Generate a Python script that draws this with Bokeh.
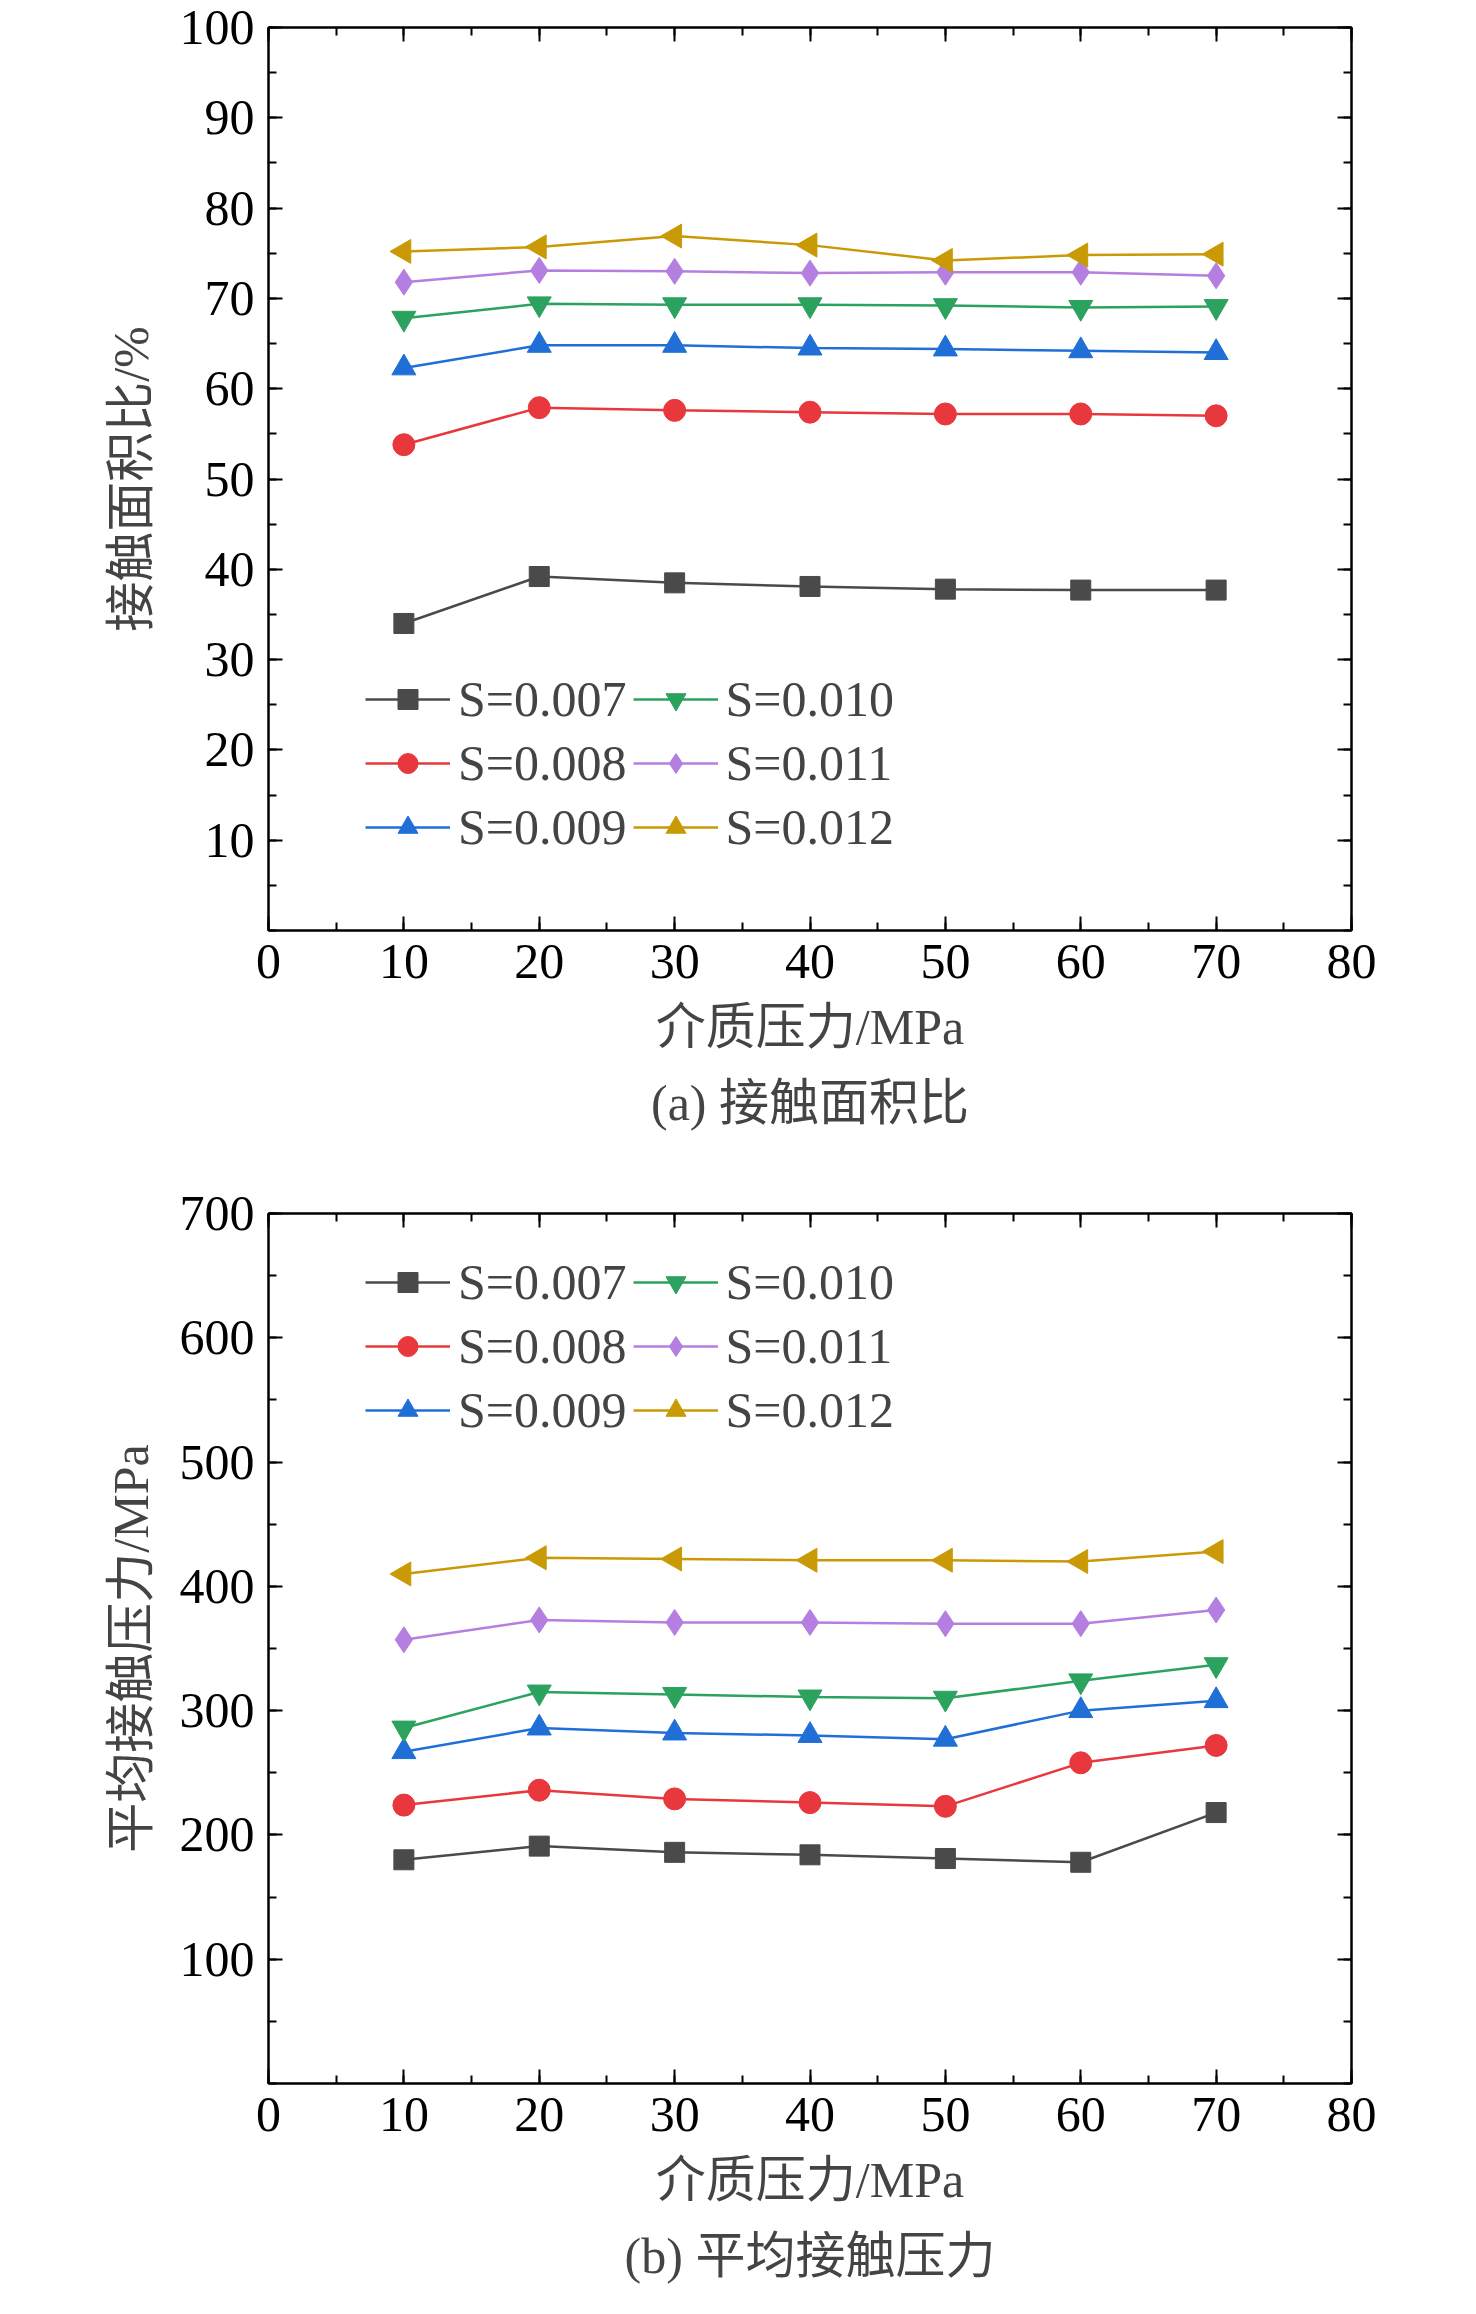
import math
from bokeh.plotting import figure
from bokeh.models import LinearAxis, FixedTicker, Range1d, Legend, LegendItem, Column
from bokeh.embed import file_html
from bokeh.resources import INLINE

x = [10, 20, 30, 40, 50, 60, 70]
labels = ["S=0.007", "S=0.008", "S=0.009", "S=0.010", "S=0.011", "S=0.012"]
area = [
    [34.0, 39.2, 38.5, 38.1, 37.8, 37.7, 37.7],
    [53.8, 57.9, 57.6, 57.4, 57.2, 57.2, 57.0],
    [62.3, 64.8, 64.8, 64.5, 64.4, 64.2, 64.0],
    [67.8, 69.4, 69.3, 69.3, 69.2, 69.0, 69.1],
    [71.8, 73.1, 73.0, 72.8, 72.9, 72.9, 72.5],
    [75.2, 75.7, 76.9, 75.9, 74.2, 74.8, 74.9],
]
pressure = [
    [180, 191, 186, 184, 181, 178, 218],
    [224, 236, 229, 226, 223, 258, 272],
    [267, 286, 282, 280, 277, 300, 308],
    [286, 315, 313, 311, 310, 324, 337],
    [357, 373, 371, 371, 370, 370, 381],
    [410, 423, 422, 421, 421, 420, 428],
]
colors = ["#4a4a4a", "#e8383d", "#1f6fd6", "#2ca25f", "#b47fe0", "#c99a06"]
markers = ["square", "circle", "triangle", "inverted_triangle", "diamond", "triangle"]
angles = [0, 0, 0, 0, 0, math.pi / 2]
sizes = [20, 22, 24, 24, 26, 24]

FONT = "Liberation Serif, Noto Sans CJK SC"
TICK = "50px"


def style_axis(ax, ticks, minor, show):
    ax.ticker = FixedTicker(ticks=ticks, minor_ticks=minor)
    ax.major_tick_in = 14
    ax.major_tick_out = 0
    ax.minor_tick_in = 8
    ax.minor_tick_out = 0
    ax.axis_line_width = 2
    ax.major_tick_line_width = 2
    ax.minor_tick_line_width = 2
    ax.major_label_text_font = FONT
    ax.major_label_text_font_size = TICK
    ax.major_label_text_color = "black"
    if not show:
        ax.major_label_overrides = {t: "" for t in ticks}
    ax.axis_label_text_font = FONT
    ax.axis_label_text_font_size = "50px"
    ax.axis_label_text_font_style = "normal"
    ax.major_label_standoff = 14
    ax.axis_label_standoff = 18


def make(data, ymax, ystep, ylabel, caption, height, top, legend_loc):
    p = figure(width=1460, height=height, output_backend="svg", toolbar_location=None,
               x_range=Range1d(0, 80), y_range=Range1d(0, ymax),
               min_border_left=268, min_border_right=109, min_border_top=top,
               title=caption, title_location="below")
    p.outline_line_color = "black"
    p.outline_line_width = 2
    p.grid.visible = False
    p.title.text_font = FONT
    p.title.text_font_size = "50px"
    p.title.text_font_style = "normal"
    p.title.align = "center"
    p.title.offset = 0
    p.title.standoff = 30
    xt = list(range(0, 81, 10))
    xm = list(range(0, 81, 5))
    yt = list(range(ystep, ymax + 1, ystep))
    ym = [ystep * i / 2 for i in range(0, 2 * ymax // ystep + 1)]
    style_axis(p.xaxis[0], xt, xm, True)
    style_axis(p.yaxis[0], yt, ym, True)
    p.xaxis[0].axis_label = "介质压力/MPa"
    p.yaxis[0].axis_label = ylabel
    for loc, t, m in (("above", xt, xm), ("right", yt, ym)):
        ax = LinearAxis()
        style_axis(ax, t, m, False)
        p.add_layout(ax, loc)
    items = []
    for i, ys in enumerate(data):
        ln = p.line(x, ys, line_color=colors[i], line_width=2.5)
        sc = p.scatter(x, ys, marker=markers[i], size=sizes[i], angle=angles[i],
                       fill_color=colors[i], line_color=colors[i])
        items.append(LegendItem(label=labels[i], renderers=[ln, sc]))
    leg = Legend(items=items, location=legend_loc, orientation="vertical", nrows=3,
                 background_fill_alpha=0, border_line_alpha=0,
                 label_text_font=FONT, label_text_font_size="50px",
                 glyph_width=85, glyph_height=50, spacing=6, label_standoff=8,
                 padding=4, margin=0)
    p.add_layout(leg)
    return p


p1 = make(area, 100, 10, "接触面积比/%", "(a) 接触面积比", 1145, 27, (93, 70))
p2 = make(pressure, 700, 100, "平均接触压力/MPa", "(b) 平均接触压力", 1153, 68, (93, 640))
layout = Column(p1, p2, spacing=0)
open("out.html", "w").write(file_html(layout, INLINE))
